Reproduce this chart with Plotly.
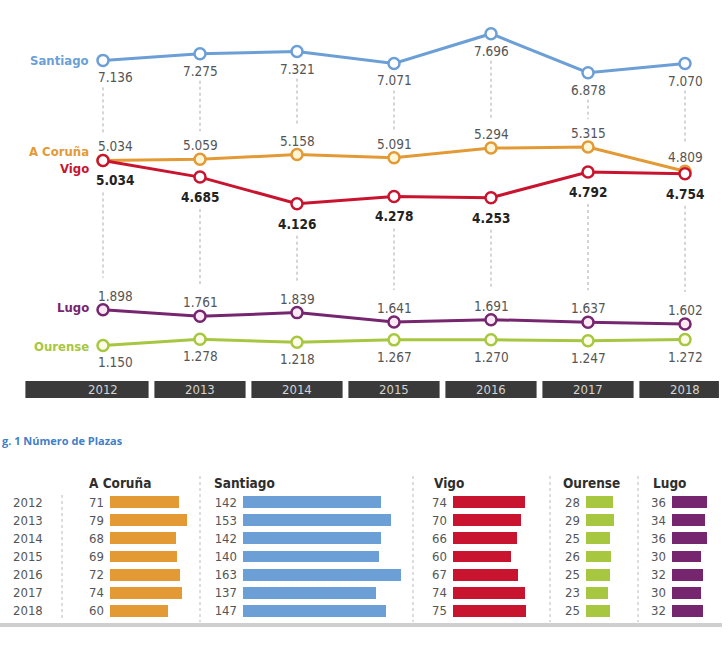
import plotly.graph_objects as go

# ---------------- data ----------------
years = [2012, 2013, 2014, 2015, 2016, 2017, 2018]
year_labels = ["2012", "2013", "2014", "2015", "2016", "2017", "2018"]

santiago = [7136, 7275, 7321, 7071, 7696, 6878, 7070]
coruna = [5034, 5059, 5158, 5091, 5294, 5315, 4809]
vigo = [5034, 4685, 4126, 4278, 4253, 4792, 4754]
lugo = [1898, 1761, 1839, 1641, 1691, 1637, 1602]
ourense = [1150, 1278, 1218, 1267, 1270, 1247, 1272]

plazas_coruna = [71, 79, 68, 69, 72, 74, 60]
plazas_santiago = [142, 153, 142, 140, 163, 137, 147]
plazas_vigo = [74, 70, 66, 60, 67, 74, 75]
plazas_ourense = [28, 29, 25, 26, 25, 23, 25]
plazas_lugo = [36, 34, 36, 30, 32, 30, 32]

caption = "g. 1 Número de Plazas"

# ---------------- style ----------------
W, H = 728, 647
C_SANT = "#6b9fd6"
C_COR = "#e39a35"
C_VIGO = "#c8142f"
C_LUGO = "#76266f"
C_OUR = "#a7c740"
GRAY = "#555555"
FONT = "DejaVu Sans Condensed, Liberation Sans Narrow, Arial Narrow, sans-serif"


def px_x(p):
    return p / W


def px_y(p):
    return 1 - p / H


def fmt(v):
    return f"{v:,}".replace(",", ".")


# line chart geometry
LINE_TOP, LINE_BOT = 0, 400
Y_RANGE = [4, 8404]
UNITS_PER_PX = (Y_RANGE[1] - Y_RANGE[0]) / (LINE_BOT - LINE_TOP)
X_RANGE = [2012 - 103 / 97, 2018 + 43 / 97]

fig = go.Figure()

# name, values, colour, marker fill, label yshift (px), bold label
series = [
    ("Santiago", santiago, C_SANT, "white", -17, False),
    ("A Coruña", coruna, C_COR, "#fff6d8", 14, False),
    ("Vigo", vigo, C_VIGO, "white", -20, True),
    ("Lugo", lugo, C_LUGO, "#fbe8f5", 14, False),
    ("Ourense", ourense, C_OUR, "#fbfde8", -17, False),
]

annotations = []
for name, vals, col, fill, ysh, bold in series:
    fig.add_trace(go.Scatter(
        x=years, y=vals, mode="lines+markers",
        line=dict(color=col, width=3),
        marker=dict(symbol="circle", size=11, color=fill,
                    line=dict(color=col, width=2.5)),
        cliponaxis=False, hoverinfo="skip", showlegend=False,
        xaxis="x", yaxis="y",
    ))
    for i, (yr, v) in enumerate(zip(years, vals)):
        annotations.append(dict(
            text=("<b>%s</b>" % fmt(v)) if bold else fmt(v),
            xref="x", yref="y", x=yr, y=v, xanchor="center", yanchor="middle",
            xshift=12 if i == 0 else 0, yshift=ysh, showarrow=False,
            font=dict(family=FONT, size=13.5,
                      color="#222222" if bold else GRAY)))

shapes = []
# dotted connectors between label groups
for i, yr in enumerate(years):
    top_hi = santiago[i] - 27 * UNITS_PER_PX
    top_lo = max(coruna[i], vigo[i]) + 28 * UNITS_PER_PX
    shapes.append(dict(type="line", xref="x", yref="y", x0=yr, x1=yr,
                       y0=top_hi, y1=top_lo,
                       line=dict(color="#aaaaaa", width=1, dash="dot")))
    bot_hi = min(coruna[i], vigo[i]) - 32 * UNITS_PER_PX
    bot_lo = lugo[i] + 32 * UNITS_PER_PX
    shapes.append(dict(type="line", xref="x", yref="y", x0=yr, x1=yr,
                       y0=bot_hi, y1=bot_lo,
                       line=dict(color="#aaaaaa", width=1, dash="dot")))

# series names at left
name_specs = [
    ("Santiago", santiago[0], C_SANT, 0),
    ("A Coruña", coruna[0], C_COR, 9),
    ("Vigo", vigo[0], C_VIGO, -8),
    ("Lugo", lugo[0], C_LUGO, 2),
    ("Ourense", ourense[0], C_OUR, -1),
]
for txt, yv, col, ys in name_specs:
    annotations.append(dict(
        text="<b>%s</b>" % txt, xref="paper", yref="y", x=px_x(91), y=yv,
        xanchor="right", yanchor="middle", yshift=ys, showarrow=False,
        font=dict(family=FONT, size=13, color=col)))

# year band
for i, yr in enumerate(years):
    x0 = yr - 0.8 if i == 0 else yr - 0.47
    x1 = yr + 0.35 if i == len(years) - 1 else yr + 0.47
    shapes.append(dict(type="rect", xref="x", yref="paper", x0=x0, x1=x1,
                       y0=px_y(398), y1=px_y(381), fillcolor="#3a3a3a",
                       line=dict(width=0), layer="below"))
    annotations.append(dict(
        text=year_labels[i], xref="x", yref="paper", x=yr, y=px_y(389.5),
        xanchor="center", yanchor="middle", showarrow=False,
        font=dict(family=FONT, size=13, color="#d4d4d4")))

# caption
annotations.append(dict(
    text="<b>%s</b>" % caption, xref="paper", yref="paper",
    x=0, y=px_y(440), xanchor="left", yanchor="middle", showarrow=False,
    font=dict(family="Open Sans, Lato, sans-serif", size=11, color="#3f7fc6")))

# ---------------- bar panels ----------------
BAR_SCALE = 0.97  # px per unit
panels = [
    ("A Coruña", plazas_coruna, C_COR, 110, 198, 87),
    ("Santiago", plazas_santiago, C_SANT, 243, 410, 212),
    ("Vigo", plazas_vigo, C_VIGO, 453, 548, 432),
    ("Ourense", plazas_ourense, C_OUR, 586, 636, 561),
    ("Lugo", plazas_lugo, C_LUGO, 672, 726, 651),
]
ROW_TOP, ROW_BOT = 493, 620
layout_axes = {}
for k, (title, vals, col, x0p, x1p, tx) in enumerate(panels):
    n = k + 2
    fig.add_trace(go.Bar(
        x=vals, y=list(range(len(vals))), orientation="h",
        marker=dict(color=col, line=dict(width=0)), width=0.66,
        xaxis="x%d" % n, yaxis="y%d" % n, hoverinfo="skip", showlegend=False,
    ))
    layout_axes["xaxis%d" % n] = dict(
        domain=[px_x(x0p), px_x(x1p)], range=[0, (x1p - x0p) / BAR_SCALE],
        visible=False, anchor="y%d" % n, fixedrange=True)
    layout_axes["yaxis%d" % n] = dict(
        domain=[px_y(ROW_BOT), px_y(ROW_TOP)], range=[len(vals) - 0.5, -0.5],
        anchor="x%d" % n, tickmode="array", tickvals=list(range(len(vals))),
        ticktext=[str(v) for v in vals], ticks="", showgrid=False,
        zeroline=False, showline=False, ticklabelstandoff=5,
        tickfont=dict(family=FONT, size=13, color=GRAY), fixedrange=True)
    annotations.append(dict(
        text="<b>%s</b>" % title, xref="paper", yref="paper",
        x=px_x(tx), y=px_y(483), xanchor="left", yanchor="middle",
        showarrow=False, font=dict(family=FONT, size=13.5, color="#2e2e2e")))

# year labels for bar rows
for i, lab in enumerate(year_labels):
    annotations.append(dict(
        text=lab, xref="paper", yref="y2", x=px_x(28), y=i,
        xanchor="center", yanchor="middle", showarrow=False,
        font=dict(family=FONT, size=13, color=GRAY)))

# separators
shapes.append(dict(type="line", xref="paper", yref="paper",
                   x0=px_x(62), x1=px_x(62), y0=px_y(495), y1=px_y(620),
                   line=dict(color="#bbbbbb", width=1, dash="dot")))
for sx in [200, 413, 550, 638]:
    shapes.append(dict(type="line", xref="paper", yref="paper",
                       x0=px_x(sx), x1=px_x(sx), y0=px_y(476), y1=px_y(622),
                       line=dict(color="#bbbbbb", width=1, dash="dot")))
# bottom gray rule
shapes.append(dict(type="rect", xref="paper", yref="paper",
                   x0=0, x1=px_x(722), y0=px_y(627), y1=px_y(623),
                   fillcolor="#cfcfcf", line=dict(width=0)))

fig.update_layout(
    width=W, height=H, margin=dict(l=0, r=0, t=0, b=0),
    paper_bgcolor="white", plot_bgcolor="rgba(0,0,0,0)",
    showlegend=False,
    xaxis=dict(domain=[0, 1], range=X_RANGE, visible=False, fixedrange=True),
    yaxis=dict(domain=[px_y(LINE_BOT), px_y(LINE_TOP)], range=Y_RANGE,
               visible=False, fixedrange=True),
    shapes=shapes, annotations=annotations,
    bargap=0,
    **layout_axes,
)

fig.write_html("out.html")
